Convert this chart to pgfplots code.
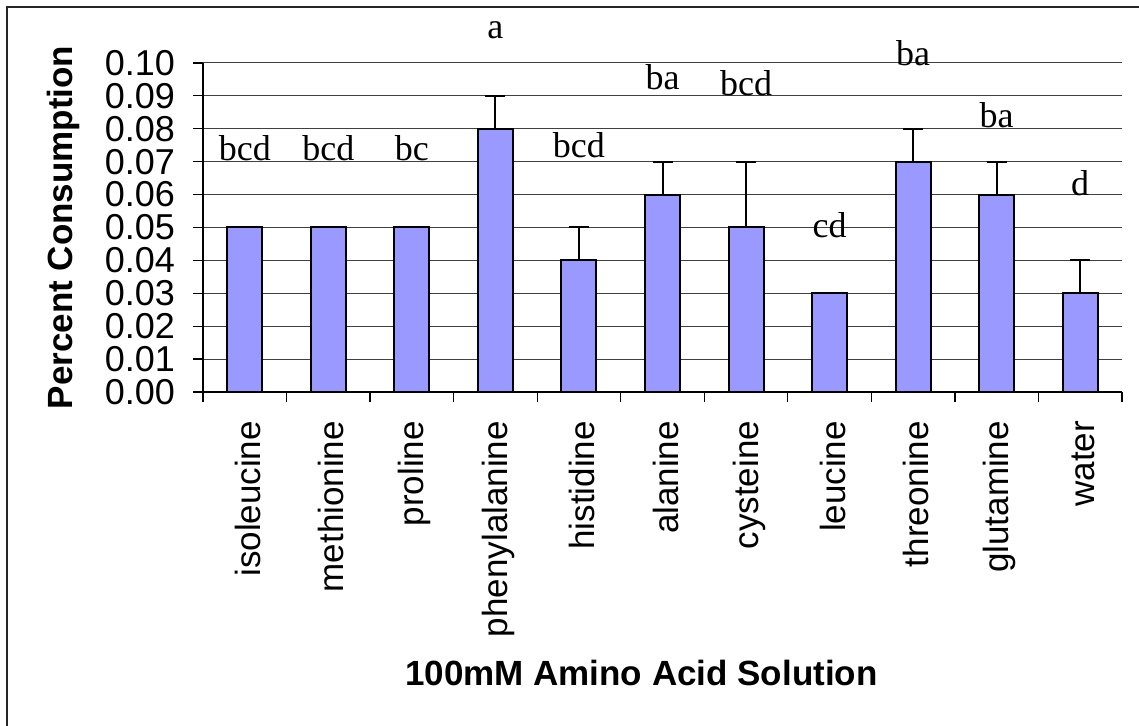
\documentclass[border=0pt]{standalone}
\usepackage{fontspec}
\setmainfont{Liberation Sans}
\newfontfamily\timesfont{Liberation Serif}
\usepackage{pgfplots}
\usepackage{pgfplotstable}
\pgfplotsset{compat=1.18}
\definecolor{barblue}{HTML}{9999FF}

% mean consumption and upper error for each solution
\pgfplotstableread{
x y err
0 0.05 0
1 0.05 0
2 0.05 0
3 0.08 0.01
4 0.04 0.01
5 0.06 0.01
6 0.05 0.02
7 0.03 0
8 0.07 0.01
9 0.06 0.01
10 0.03 0.01
}\consumption

\newcommand{\ticksize}{\fontsize{17.5}{20}\selectfont}

\begin{document}
\begin{tikzpicture}
\useasboundingbox (0,0) rectangle (569.5pt,363pt);
\draw[line width=1pt, black!85] (3.5pt,-1pt) -- (3.5pt,359.5pt) -- (570pt,359.5pt);
\begin{axis}[
  at={(101.5pt,167pt)}, anchor=south west,
  width=459.5pt, height=164.5pt, scale only axis,
  xmin=-0.5, xmax=10.5, ymin=0, ymax=0.1,
  axis x line*=bottom, axis y line*=left,
  axis line style={line width=0.6pt, black},
  tick align=outside,
  major tick length=5pt, minor tick length=5pt,
  tick style={black, line width=0.6pt},
  ytick={0,0.01,0.02,0.03,0.04,0.05,0.06,0.07,0.08,0.09,0.10},
  ymajorgrids, grid style={black!75, line width=0.5pt},
  xtick={0,1,2,3,4,5,6,7,8,9,10},
  xticklabels={isoleucine,methionine,proline,phenylalanine,histidine,alanine,cysteine,leucine,threonine,glutamine,water},
  major x tick style={draw=none},
  minor xtick={-0.5,0.5,1.5,2.5,3.5,4.5,5.5,6.5,7.5,8.5,9.5,10.5},
  xticklabel style={rotate=90, anchor=east, font=\ticksize, xshift=-6pt, yshift=-1.5pt},
  yticklabel style={font=\fontsize{18}{20}\selectfont, xshift=-5.5pt},
  /pgf/number format/.cd, fixed, fixed zerofill, precision=2, assume math mode=true,
  /pgfplots/.cd,
  xlabel={\bfseries 100mM Amino Acid Solution},
  ylabel={\bfseries Percent Consumption},
  xlabel style={at={(axis description cs:0.477,-0.854)}, anchor=center, font=\ticksize},
  ylabel style={at={(axis description cs:-0.152,0.5)}, anchor=center, font=\ticksize},
  clip=false,
  ybar, bar width=17.5pt,
]
\addplot[fill=barblue, draw=black, line width=1pt,
  error bars/.cd, y dir=plus, y explicit,
  error mark=|,
  error bar style={line width=1pt, black},
  error mark options={line width=1pt, mark size=5pt, black}]
  table[x=x, y=y, y error=err] {\consumption};

\begin{scope}[every node/.style={font=\timesfont\fontsize{18}{20}\selectfont}]
\node at (axis cs:0,0.0742) {bcd};
\node at (axis cs:1,0.0742) {bcd};
\node at (axis cs:2,0.0742) {bc};
\node at (axis cs:3,0.1100) {a};
\node at (axis cs:4,0.0751) {bcd};
\node at (axis cs:5,0.0957) {ba};
\node at (axis cs:6,0.0940) {bcd};
\node at (axis cs:7,0.0508) {cd};
\node at (axis cs:8,0.1030) {ba};
\node at (axis cs:9,0.0842) {ba};
\node at (axis cs:10,0.0635) {d};
\end{scope}
\end{axis}
\end{tikzpicture}
\end{document}
